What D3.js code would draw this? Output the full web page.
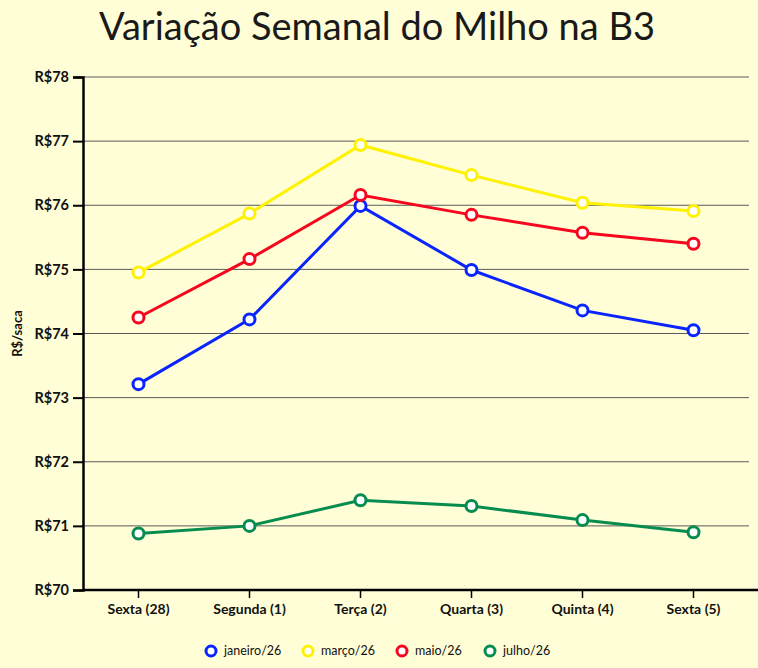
<!DOCTYPE html>
<html>
<head>
<meta charset="utf-8">
<script src="https://cdn.jsdelivr.net/npm/d3@7"></script>
<style>
  body { margin: 0; background: #fffed6; }
  svg { display: block; }
</style>
</head>
<body>
<div id="chart"></div>
<script>
// categories and series
var dias = ["Sexta (28)", "Segunda (1)", "Terça (2)", "Quarta (3)", "Quinta (4)", "Sexta (5)"]
var janeiro = [73.21, 74.22, 75.99, 74.99, 74.36, 74.05]
var marco = [74.95, 75.87, 76.94, 76.47, 76.04, 75.91]
var maio = [74.25, 75.16, 76.16, 75.85, 75.57, 75.40]
var julho = [70.88, 71.00, 71.40, 71.31, 71.09, 70.90]
var seriesNames = ["janeiro/26", "março/26", "maio/26", "julho/26"]
var yTicks = [70, 71, 72, 73, 74, 75, 76, 77, 78]

var colors = ["#0a24ff", "#fff200", "#f5081f", "#078c50"]
var allSeries = [janeiro, marco, maio, julho]

var width = 758
var height = 668
var font = "Lato, 'Open Sans', sans-serif"

// plot area (window.top is taken, so prefixed names)
var plotLeft = 83, plotRight = 749, plotTop = 77, plotBottom = 590

var svg = d3.select("#chart")
  .append("svg")
  .attr("width", width)
  .attr("height", height)

svg.append("rect")
  .attr("width", width)
  .attr("height", height)
  .attr("fill", "#fffed6")

svg.append("text")
  .attr("x", 377)
  .attr("y", 40)
  .attr("text-anchor", "middle")
  .attr("font-family", font)
  .attr("font-size", 38)
  .attr("fill", "#1a1a1a")
  .text("Variação Semanal do Milho na B3")

var x = d3.scaleBand().domain(dias).range([plotLeft, plotRight])
var y = d3.scaleLinear().domain([70, 78]).range([plotBottom, plotTop])

//gridlines
svg.append("g")
  .selectAll("line")
  .data(yTicks.slice(1))
  .enter()
  .append("line")
  .attr("x1", plotLeft)
  .attr("x2", plotRight)
  .attr("y1", function (d) { return y(d) })
  .attr("y2", function (d) { return y(d) })
  .attr("stroke", "#5a5a5a")
  .attr("stroke-width", 1)

var yAxis = svg.append("g")
  .attr("transform", "translate(" + plotLeft + ",0)")
  .call(d3.axisLeft(y).tickValues(yTicks).tickSize(10).tickPadding(4)
    .tickFormat(function (d) { return "R$" + d }))

yAxis.select(".domain").attr("stroke", "#000").attr("stroke-width", 2.5)
yAxis.selectAll(".tick line").attr("stroke", "#000").attr("stroke-width", 2)
yAxis.selectAll("text")
  .attr("font-family", font)
  .attr("font-size", 14.5)
  .attr("font-weight", "bold")
  .attr("fill", "#111")

var xAxis = svg.append("g")
  .attr("transform", "translate(0," + plotBottom + ")")
  .call(d3.axisBottom(x).tickSize(8).tickPadding(6).tickSizeOuter(0))

xAxis.select(".domain")
  .attr("d", "M" + plotLeft + ",0H" + width)
  .attr("stroke", "#000")
  .attr("stroke-width", 2.5)
xAxis.selectAll(".tick line").attr("stroke", "#000").attr("stroke-width", 1.5)
xAxis.selectAll("text")
  .attr("font-family", font)
  .attr("font-size", 14)
  .attr("font-weight", "bold")
  .attr("fill", "#111")

svg.append("text")
  .attr("transform", "translate(22," + ((plotTop + plotBottom) / 2) + ") rotate(-90)")
  .attr("text-anchor", "middle")
  .attr("font-family", font)
  .attr("font-size", 13)
  .attr("font-weight", "bold")
  .attr("fill", "#111")
  .text("R$/saca")

var line = d3.line()
  .x(function (d, i) { return x(dias[i]) + x.bandwidth() / 2 })
  .y(function (d) { return y(d) })

allSeries.forEach(function (values, s) {
  var g = svg.append("g")
  g.append("path")
    .datum(values)
    .attr("d", line)
    .attr("fill", "none")
    .attr("stroke", colors[s])
    .attr("stroke-width", 3)

  g.selectAll("circle")
    .data(values)
    .enter()
    .append("circle")
    .attr("cx", function (d, i) { return x(dias[i]) + x.bandwidth() / 2 })
    .attr("cy", function (d) { return y(d) })
    .attr("r", 5.5)
    .attr("fill", "#fff")
    .attr("stroke", colors[s])
    .attr("stroke-width", 3)
})

//legend
var legendX = [211, 308, 402, 490]
var legend = svg.selectAll(".legend")
  .data(seriesNames)
  .enter()
  .append("g")
  .attr("transform", function (d, i) { return "translate(" + legendX[i] + ",651)" })

legend.append("circle")
  .attr("r", 5)
  .attr("fill", "#fff")
  .attr("stroke", function (d, i) { return colors[i] })
  .attr("stroke-width", 3)

legend.append("text")
  .attr("x", 13)
  .attr("dy", "0.35em")
  .attr("font-family", font)
  .attr("font-size", 12.5)
  .attr("fill", "#111")
  .text(function (d) { return d })
</script>
</body>
</html>
